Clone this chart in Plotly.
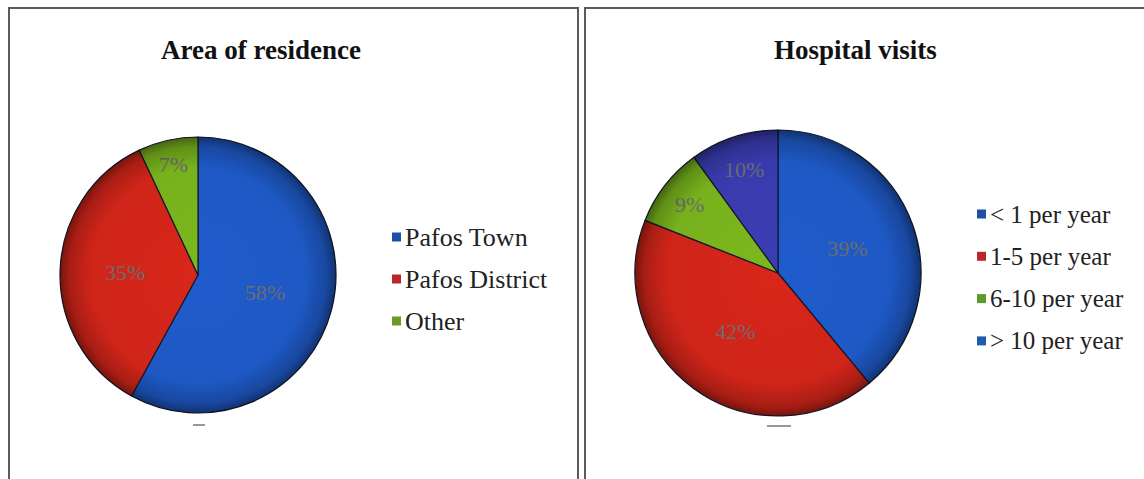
import base64
import plotly.graph_objects as go

W, H = 1144, 479

# Area of residence
res_labels = ["Pafos Town", "Pafos District", "Other"]
res_values = [58, 35, 7]
res_colors = ["#1f5ccc", "#d8261a", "#7cb81e"]
res_legend_colors = ["#1f4fa8", "#b8282a", "#6b9a2a"]

# Hospital visits
visit_labels = ["< 1 per year", "1-5 per year", "6-10 per year", "> 10 per year"]
visit_values = [39, 42, 9, 10]
visit_colors = ["#1f5ccc", "#d8261a", "#7cb81e", "#3b3db4"]
visit_legend_colors = ["#1f4fa8", "#b8282a", "#5e9a2a", "#1f5ca8"]

SERIF = "Liberation Serif, Times New Roman, serif"

# pie geometry in pixels: centre x, centre y, radius
RES_PIE = (198, 275, 138)
VISIT_PIE = (778, 273, 143)


def px_domain(cx, cy, r):
    return dict(x=[(cx - r) / W, (cx + r) / W], y=[1 - (cy + r) / H, 1 - (cy - r) / H])


def pie(labels, values, colors, geom):
    return go.Pie(
        labels=labels, values=values, sort=False, direction="clockwise", rotation=0,
        marker=dict(colors=colors, line=dict(color="#15182a", width=1.2)),
        texttemplate="%{percent:.0%}", textposition="inside", insidetextorientation="horizontal",
        textfont=dict(family=SERIF, size=22, color="#6f6f6f"),
        domain=px_domain(*geom), showlegend=False, hoverinfo="label+percent",
    )


fig = go.Figure()
fig.add_trace(pie(res_labels, res_values, res_colors, RES_PIE))
fig.add_trace(pie(visit_labels, visit_values, visit_colors, VISIT_PIE))

shapes = []
annotations = []
images = []

# bevel shading over each pie: darker towards the rim
shade_svg = (
    '<svg xmlns="http://www.w3.org/2000/svg" width="200" height="200" viewBox="0 0 200 200">'
    '<defs><radialGradient id="g" cx="50%" cy="50%" r="50%">'
    '<stop offset="0%" stop-color="#000" stop-opacity="0"/>'
    '<stop offset="78%" stop-color="#000" stop-opacity="0.04"/>'
    '<stop offset="93%" stop-color="#000" stop-opacity="0.22"/>'
    '<stop offset="100%" stop-color="#000" stop-opacity="0.45"/>'
    '</radialGradient></defs>'
    '<circle cx="100" cy="100" r="100" fill="url(#g)"/></svg>'
)
shade_src = "data:image/svg+xml;base64," + base64.b64encode(shade_svg.encode()).decode()
for cx, cy, r in (RES_PIE, VISIT_PIE):
    images.append(dict(source=shade_src, xref="paper", yref="paper",
                       x=(cx - r) / W, y=1 - (cy - r) / H, sizex=2 * r / W, sizey=2 * r / H,
                       xanchor="left", yanchor="top", sizing="stretch", layer="above"))

# panel frames
frame = dict(type="rect", xref="paper", yref="paper", line=dict(color="#5a5a5a", width=2),
             fillcolor="rgba(0,0,0,0)", layer="below")
shapes.append(dict(frame, x0=9 / W, x1=578 / W, y0=-0.05, y1=1 - 8 / H))
shapes.append(dict(frame, x0=585 / W, x1=1.05, y0=-0.05, y1=1 - 8 / H))

# titles
for text, xc in (("Area of residence", 261), ("Hospital visits", 855)):
    annotations.append(dict(text="<b>" + text + "</b>", x=xc / W, y=1 - 50 / H, xref="paper", yref="paper",
                            xanchor="center", yanchor="middle", showarrow=False,
                            font=dict(family=SERIF, size=27, color="#111")))


def add_legend(labels, colors, x_sq, y0, dy, size):
    for i, (lab, col) in enumerate(zip(labels, colors)):
        yc = y0 + i * dy
        shapes.append(dict(type="rect", xref="paper", yref="paper",
                           x0=x_sq / W, x1=(x_sq + 9) / W,
                           y0=1 - (yc + 4.5) / H, y1=1 - (yc - 4.5) / H,
                           fillcolor=col, line=dict(width=0)))
        annotations.append(dict(text=lab, x=(x_sq + 11) / W, y=1 - yc / H, xref="paper", yref="paper",
                                xanchor="left", yanchor="middle", showarrow=False,
                                font=dict(family=SERIF, size=size, color="#222")))


add_legend(res_labels, res_legend_colors, 392, 237, 42, 26)
add_legend(visit_labels, visit_legend_colors, 977, 214, 42.3, 25)

# small tick marks beneath each pie
shapes.append(dict(type="line", xref="paper", yref="paper", x0=193 / W, x1=205 / W,
                   y0=1 - 425 / H, y1=1 - 425 / H, line=dict(color="#999", width=2)))
shapes.append(dict(type="line", xref="paper", yref="paper", x0=767 / W, x1=791 / W,
                   y0=1 - 426 / H, y1=1 - 426 / H, line=dict(color="#999", width=2)))

fig.update_layout(
    width=W, height=H, margin=dict(l=0, r=0, t=0, b=0),
    paper_bgcolor="white", plot_bgcolor="white",
    shapes=shapes, annotations=annotations, images=images,
)

fig.write_html("out.html")
